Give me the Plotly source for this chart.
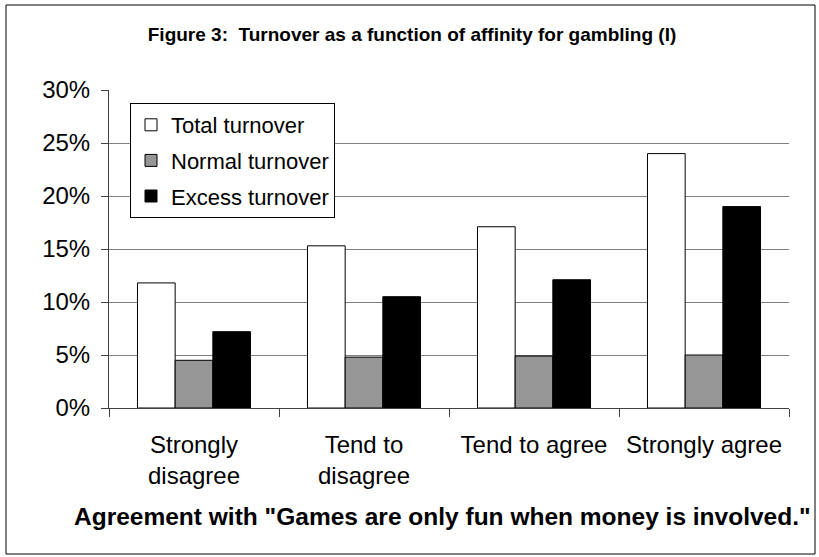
import plotly.graph_objects as go

categories = ["Strongly<br>disagree", "Tend to<br>disagree", "Tend to agree", "Strongly agree"]
total_turnover = [11.8, 15.3, 17.1, 24.0]
normal_turnover = [4.5, 4.8, 4.9, 5.0]
excess_turnover = [7.2, 10.5, 12.1, 19.0]
y_ticks = [0, 5, 10, 15, 20, 25, 30]
y_tick_labels = ["0%", "5%", "10%", "15%", "20%", "25%", "30%"]

W, H = 819, 557
L, R, T, B = 109, 30, 90, 149
pw, ph = W - L - R, H - T - B

def px(x):
    return (x - L) / pw

def py(y):
    return (H - B - y) / ph

FONT = "Liberation Sans, Arial, sans-serif"

fig = go.Figure()
series = [
    ("Total turnover", total_turnover, "#FFFFFF"),
    ("Normal turnover", normal_turnover, "#969696"),
    ("Excess turnover", excess_turnover, "#000000"),
]
for name, vals, col in series:
    fig.add_trace(go.Bar(
        x=categories, y=vals, name=name, legendgroup=name,
        marker=dict(color=col, line=dict(color="#000000", width=1)),
    ))

fig.update_layout(
    width=W, height=H,
    margin=dict(l=L, r=R, t=T, b=B),
    paper_bgcolor="white", plot_bgcolor="white",
    barmode="group", bargap=0.335, bargroupgap=0,
    font=dict(family=FONT, color="black"),
    title=dict(
        text="<b>Figure 3:\u00a0 Turnover as a function of affinity for gambling (I)</b>",
        x=px(412), xref="paper", xanchor="center",
        y=1 - 34 / H, yref="container", yanchor="middle",
        font=dict(size=19, family=FONT, color="black"),
    ),
    legend=dict(
        x=px(130), y=py(103), xanchor="left", yanchor="top",
        bordercolor="black", borderwidth=1, bgcolor="white",
        font=dict(size=22, family=FONT, color="black"),
        tracegroupgap=4, traceorder="grouped",
    ),
    xaxis=dict(
        type="category", tickson="boundaries", ticks="outside", ticklen=8,
        tickcolor="#404040", showline=True, linecolor="#404040", linewidth=1,
        showgrid=False, tickfont=dict(size=24, family=FONT, color="black"),
        ticklabelstandoff=15,
    ),
    yaxis=dict(
        range=[0, 30], tickvals=y_ticks, ticktext=y_tick_labels,
        ticks="outside", ticklen=7, tickcolor="#404040",
        showline=True, linecolor="#404040", linewidth=1,
        showgrid=True, gridcolor="#808080", gridwidth=1,
        tickfont=dict(size=24, family=FONT, color="black"),
        zeroline=False, ticklabelstandoff=6,
    ),
    annotations=[dict(
        text="<b>Agreement with \"Games are only fun when money is involved.\"</b>",
        x=px(442), y=py(516), xref="paper", yref="paper",
        xanchor="center", yanchor="middle", showarrow=False,
        font=dict(size=24.5, family=FONT, color="black"),
    )],
    shapes=[dict(
        type="rect", xref="paper", yref="paper",
        x0=px(6), x1=px(815), y0=py(554), y1=py(5),
        line=dict(color="black", width=1), fillcolor="rgba(0,0,0,0)",
        layer="above",
    )],
)

fig.write_html("out.html", config={"displayModeBar": False},
               post_script="document.body.style.margin='0';")
